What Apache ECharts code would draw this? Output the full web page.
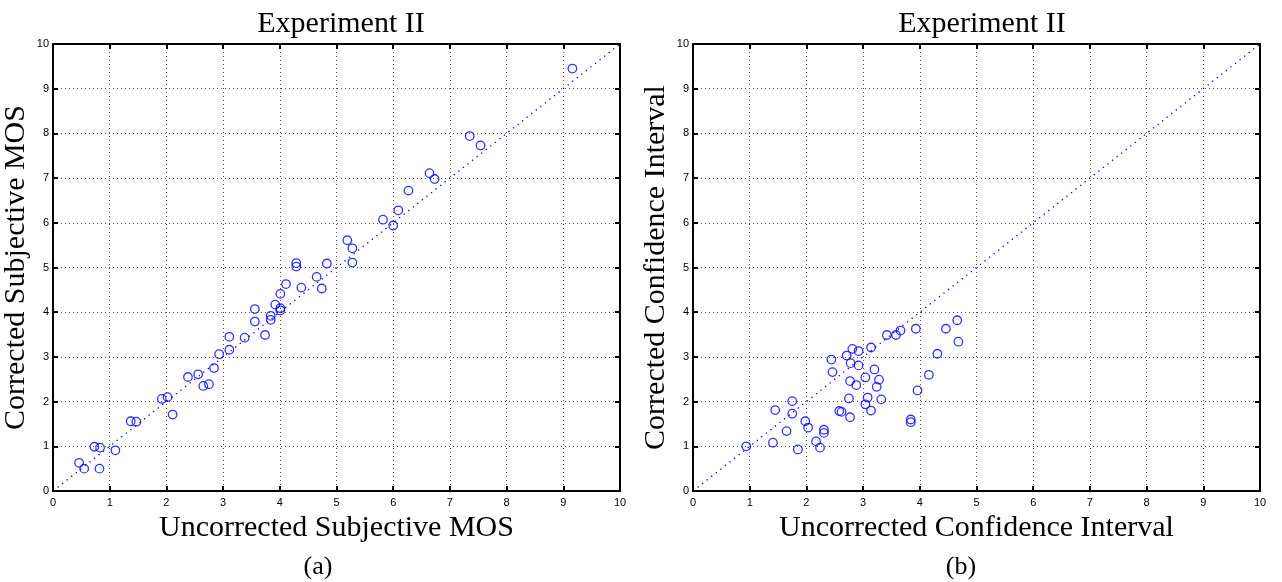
<!DOCTYPE html>
<html>
<head>
<meta charset="utf-8">
<title>Experiment II</title>
<script src="https://cdn.jsdelivr.net/npm/echarts@6/dist/echarts.min.js"></script>
<style>
  html, body { margin: 0; padding: 0; background: #fff; }
  #renderChart { width: 1282px; height: 582px; }
</style>
</head>
<body>
<div id="renderChart"></div>
<script>
// panel (a): subjective MOS
const mosUncorrected = [0.46, 0.55, 0.73, 0.83, 0.82, 1.10, 1.37, 1.47, 1.92, 2.02, 2.11, 2.38,
  2.56, 2.65, 2.75, 2.84, 2.93, 3.11, 3.11, 3.38, 3.56, 3.56, 3.74, 3.84, 3.84, 3.92, 4.01,
  4.01, 4.01, 4.11, 4.29, 4.29, 4.38, 4.65, 4.74, 4.83, 5.19, 5.28, 5.28, 5.82, 6.00, 6.09,
  6.27, 6.64, 6.73, 7.35, 7.54, 9.16];
const mosCorrected = [0.63, 0.50, 0.99, 0.97, 0.50, 0.91, 1.56, 1.55, 2.06, 2.10, 1.71, 2.55,
  2.61, 2.35, 2.39, 2.75, 3.06, 3.16, 3.45, 3.43, 4.07, 3.79, 3.49, 3.92, 3.83, 4.17, 4.41,
  4.09, 4.04, 4.63, 5.10, 5.02, 4.55, 4.79, 4.53, 5.09, 5.61, 5.43, 5.11, 6.07, 5.94, 6.28,
  6.72, 7.11, 6.98, 7.94, 7.73, 9.45];

// panel (b): confidence intervals
const ciUncorrected = [0.94, 1.41, 1.45, 1.65, 1.75, 1.75, 1.85, 1.98, 2.03, 2.17, 2.24, 2.31,
  2.31, 2.44, 2.46, 2.58, 2.62, 2.71, 2.75, 2.77, 2.77, 2.78, 2.81, 2.88, 2.92, 2.92, 3.04,
  3.04, 3.08, 3.14, 3.14, 3.20, 3.24, 3.28, 3.32, 3.42, 3.58, 3.66, 3.84, 3.84, 3.93, 3.96,
  4.16, 4.31, 4.46, 4.66, 4.68];
const ciCorrected = [1.00, 1.08, 1.81, 1.34, 2.01, 1.73, 0.93, 1.56, 1.42, 1.11, 0.97, 1.37,
  1.30, 2.94, 2.66, 1.79, 1.77, 3.03, 2.07, 1.65, 2.46, 2.86, 3.18, 2.37, 3.13, 2.81, 1.94,
  2.54, 2.09, 1.80, 3.21, 2.72, 2.33, 2.49, 2.05, 3.49, 3.49, 3.59, 1.60, 1.54, 3.63, 2.25,
  2.60, 3.07, 3.63, 3.82, 3.34];

const identityLine = [[0, 0], [10, 10]];

const titles = ['Experiment II', 'Experiment II'];
const xNames = ['Uncorrected Subjective MOS', 'Uncorrected Confidence Interval'];
const yNames = ['Corrected Subjective MOS', 'Corrected Confidence Interval'];
const captions = ['(a)', '(b)'];

const serif = 'Liberation Serif';
const sans = 'Liberation Sans';
const blue = '#0000ff';

const grids = [
  { left: 53, top: 44, width: 567, height: 447 },
  { left: 693, top: 44, width: 567, height: 447 }
];

function mainAxis(idx, name, isX, gap) {
  return {
    type: 'value', gridIndex: idx, min: 0, max: 10, interval: 1,
    position: isX ? 'bottom' : 'left',
    name: name, nameLocation: 'middle',
    nameGap: gap,
    nameTextStyle: { fontFamily: serif, fontSize: 30, color: '#000' },
    axisLine: { show: true, onZero: false, lineStyle: { color: '#000', width: 2 } },
    axisTick: { show: true, inside: true, length: 5, lineStyle: { color: '#000', width: 2 } },
    axisLabel: { color: '#000', fontFamily: sans, fontSize: 11, margin: isX ? 6 : 4 },
    splitLine: { show: true, lineStyle: { color: '#555', width: 1, type: [1, 3] } }
  };
}

function frameAxis(idx, isX) {
  return {
    type: 'value', gridIndex: idx, min: 0, max: 10, interval: 1,
    position: isX ? 'top' : 'right',
    axisLine: { show: true, onZero: false, lineStyle: { color: '#000', width: 2 } },
    axisTick: { show: true, inside: true, length: 5, lineStyle: { color: '#000', width: 2 } },
    axisLabel: { show: false },
    splitLine: { show: false }
  };
}

function toPairs(xs, ys) {
  return xs.map((x, i) => [x, ys[i]]);
}

const myChart = echarts.init(document.getElementById('renderChart'), null, { renderer: 'canvas' });

const option = {
  animation: false,
  backgroundColor: '#fff',
  title: [
    { text: titles[0], left: 336, top: 4, textAlign: 'center',
      textStyle: { fontFamily: serif, fontSize: 30, fontWeight: 'normal', color: '#000' } },
    { text: titles[1], left: 977, top: 4, textAlign: 'center',
      textStyle: { fontFamily: serif, fontSize: 30, fontWeight: 'normal', color: '#000' } },
    { text: captions[0], left: 313, top: 549, textAlign: 'center',
      textStyle: { fontFamily: serif, fontSize: 26, fontWeight: 'normal', color: '#000' } },
    { text: captions[1], left: 956, top: 549, textAlign: 'center',
      textStyle: { fontFamily: serif, fontSize: 26, fontWeight: 'normal', color: '#000' } }
  ],
  grid: grids,
  xAxis: [mainAxis(0, xNames[0], true, 10), mainAxis(1, xNames[1], true, 15),
    frameAxis(0, true), frameAxis(1, true)],
  yAxis: [mainAxis(0, yNames[0], false, 22), mainAxis(1, yNames[1], false, 22),
    frameAxis(0, false), frameAxis(1, false)],
  series: [
    { type: 'line', xAxisIndex: 0, yAxisIndex: 0, data: identityLine, symbol: 'none', silent: true,
      lineStyle: { color: blue, width: 1.3, type: [1.3, 4.5] } },
    { type: 'line', xAxisIndex: 1, yAxisIndex: 1, data: identityLine, symbol: 'none', silent: true,
      lineStyle: { color: blue, width: 1.3, type: [1.3, 4.5] } },
    { type: 'scatter', xAxisIndex: 0, yAxisIndex: 0, data: toPairs(mosUncorrected, mosCorrected),
      symbol: 'circle', symbolSize: 8.5,
      itemStyle: { color: 'transparent', borderColor: blue, borderWidth: 1.3 } },
    { type: 'scatter', xAxisIndex: 1, yAxisIndex: 1, data: toPairs(ciUncorrected, ciCorrected),
      symbol: 'circle', symbolSize: 8.5,
      itemStyle: { color: 'transparent', borderColor: blue, borderWidth: 1.3 } }
  ]
};

myChart.setOption(option);
</script>
</body>
</html>
